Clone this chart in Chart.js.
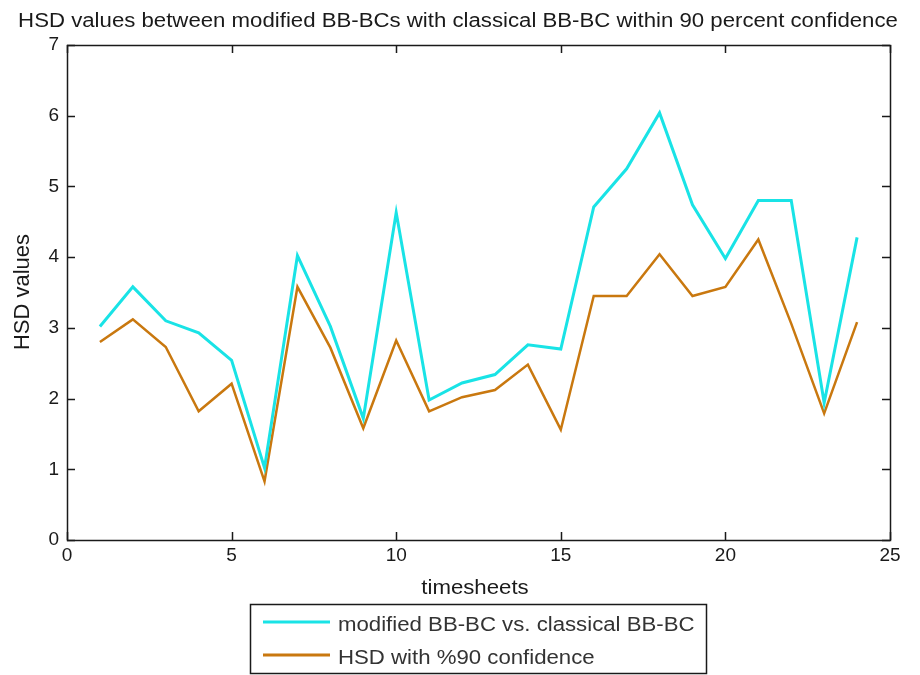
<!DOCTYPE html>
<html>
<head>
<meta charset="utf-8">
<script src="https://cdn.jsdelivr.net/npm/chart.js@4"></script>
<style>
  html, body { margin: 0; padding: 0; background: #fff; }
  #wrap { width: 920px; height: 675px; }
</style>
</head>
<body>
<div id="wrap"><canvas id="c" width="920" height="675"></canvas></div>
<script>
// Timesheet index (x) for each comparison
const timesheets = [1, 2, 3, 4, 5, 6, 7, 8, 9, 10, 11, 12, 13, 14, 15, 16, 17, 18, 19, 20, 21, 22, 23, 24];
// HSD value: modified BB-BC vs. classical BB-BC
const modifiedVsClassical = [3.02, 3.58, 3.10, 2.93, 2.54, 1.02, 4.02, 3.02, 1.72, 4.63, 1.98, 2.22, 2.34, 2.76, 2.70, 4.71, 5.25, 6.04, 4.74, 3.98, 4.80, 4.80, 1.94, 4.28];
// HSD threshold at 90% confidence
const hsd90 = [2.80, 3.12, 2.73, 1.82, 2.21, 0.83, 3.58, 2.72, 1.58, 2.82, 1.82, 2.02, 2.12, 2.48, 1.56, 3.45, 3.45, 4.04, 3.45, 3.58, 4.25, 3.06, 1.79, 3.08];

const seriesNames = ['modified BB-BC vs. classical BB-BC', 'HSD with %90 confidence'];
const xTicks = [0, 5, 10, 15, 20, 25];
const yTicks = [0, 1, 2, 3, 4, 5, 6, 7];

const titleText = 'HSD values between modified BB-BCs with classical BB-BC within 90 percent confidence';
const xTitle = 'timesheets';
const yTitle = 'HSD values';

const FONT = '"Liberation Sans", Arial, sans-serif';
const CYAN = '#19e3e6';
const BROWN = '#c9780f';
const INK = '#1a1a1a';
const WIDE = 1.11; // horizontal stretch of the text face

const toPoints = (ys) => ys.map((y, i) => ({ x: timesheets[i], y }));

// draw text with a slightly widened face
function wideText(ctx, text, x, y, size, align) {
  ctx.save();
  ctx.font = size + 'px ' + FONT;
  ctx.textAlign = align;
  ctx.textBaseline = 'alphabetic';
  ctx.translate(x, y);
  ctx.scale(WIDE, 1);
  ctx.fillText(text, 0, 0);
  ctx.restore();
}

// Frame, inward ticks, titles and boxed legend
const decorations = {
  id: 'decorations',
  afterDraw(chart) {
    const ctx = chart.ctx;
    const a = chart.chartArea;
    const xs = chart.scales.x, ys = chart.scales.y;
    ctx.save();
    ctx.strokeStyle = INK;
    ctx.lineWidth = 1.5;
    ctx.strokeRect(Math.round(a.left) + 0.5, Math.round(a.top) + 0.5, Math.round(a.right - a.left), Math.round(a.bottom - a.top));
    const tl = 8;
    ctx.beginPath();
    xTicks.forEach(v => {
      const px = Math.round(xs.getPixelForValue(v)) + 0.5;
      ctx.moveTo(px, a.bottom); ctx.lineTo(px, a.bottom - tl);
      ctx.moveTo(px, a.top); ctx.lineTo(px, a.top + tl);
    });
    yTicks.forEach(v => {
      const py = Math.round(ys.getPixelForValue(v)) + 0.5;
      ctx.moveTo(a.left, py); ctx.lineTo(a.left + tl, py);
      ctx.moveTo(a.right, py); ctx.lineTo(a.right - tl, py);
    });
    ctx.stroke();

    // chart title
    ctx.fillStyle = INK;
    wideText(ctx, titleText, 458, 27, 20, 'center');

    // axis titles
    wideText(ctx, xTitle, 475, 594, 20, 'center');
    ctx.save();
    ctx.translate(29, 292);
    ctx.rotate(-Math.PI / 2);
    ctx.font = '22px ' + FONT;
    ctx.textAlign = 'center';
    ctx.textBaseline = 'alphabetic';
    ctx.fillText(yTitle, 0, 0);
    ctx.restore();

    // legend
    const lx = 250, ly = 604, lw = 456, lh = 69;
    ctx.fillStyle = '#fff';
    ctx.fillRect(lx, ly, lw, lh);
    ctx.lineWidth = 1.5;
    ctx.strokeStyle = INK;
    ctx.strokeRect(lx + 0.5, ly + 0.5, lw, lh);
    const rows = [622, 655];
    chart.data.datasets.forEach((ds, i) => {
      ctx.strokeStyle = ds.borderColor;
      ctx.lineWidth = 3;
      ctx.beginPath();
      ctx.moveTo(263, rows[i]);
      ctx.lineTo(330, rows[i]);
      ctx.stroke();
      ctx.fillStyle = '#333';
      wideText(ctx, ds.label, 338, rows[i] + 9, 20, 'left');
    });
    ctx.restore();
  }
};

new Chart(document.getElementById('c'), {
  type: 'line',
  data: {
    datasets: [
      { label: seriesNames[0], data: toPoints(modifiedVsClassical), borderColor: CYAN, borderWidth: 3, pointRadius: 0, tension: 0, fill: false },
      { label: seriesNames[1], data: toPoints(hsd90), borderColor: BROWN, borderWidth: 2.5, pointRadius: 0, tension: 0, fill: false }
    ]
  },
  options: {
    responsive: false,
    animation: false,
    layout: { padding: { left: 0, right: 30, top: 45, bottom: 79 } },
    plugins: { legend: { display: false }, title: { display: false }, tooltip: { enabled: false } },
    scales: {
      x: {
        type: 'linear', min: 0, max: 25,
        afterBuildTicks: (s) => { s.ticks = xTicks.map(v => ({ value: v })); },
        afterFit: (s) => { s.height = 56; },
        grid: { display: false, drawTicks: false },
        border: { display: false },
        ticks: { font: { family: FONT, size: 19 }, color: INK, padding: 4, maxRotation: 0 }
      },
      y: {
        type: 'linear', min: 0, max: 7,
        afterBuildTicks: (s) => { s.ticks = yTicks.map(v => ({ value: v })); },
        afterFit: (s) => { s.width = 67; },
        grid: { display: false, drawTicks: false },
        border: { display: false },
        ticks: { font: { family: FONT, size: 19 }, color: INK, padding: 8 }
      }
    }
  },
  plugins: [decorations]
});
</script>
</body>
</html>
